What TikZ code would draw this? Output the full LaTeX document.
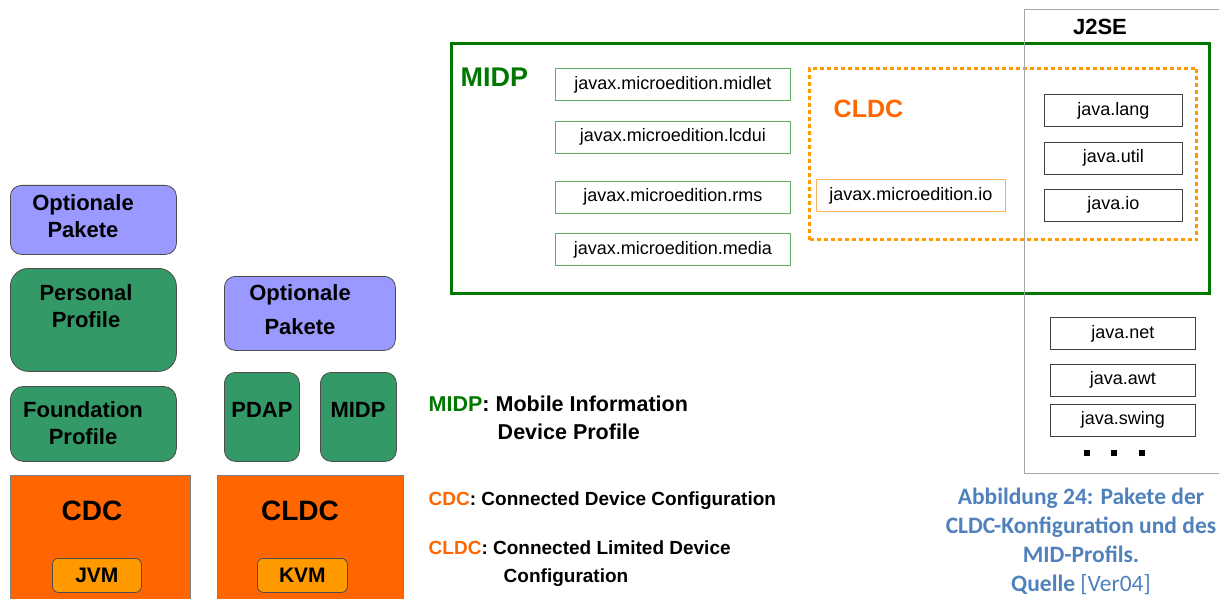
\documentclass[tikz,border=0pt]{standalone}
\usepackage{fontspec}
\setmainfont{Liberation Sans}
\newfontfamily\capfont{Carlito}
\usetikzlibrary{positioning,calc}
\definecolor{optpurple}{RGB}{153,153,255}
\definecolor{profgreen}{RGB}{51,153,102}
\definecolor{confred}{RGB}{255,102,0}
\definecolor{vmorange}{RGB}{255,153,0}
\definecolor{midpgreen}{RGB}{0,120,0}
\definecolor{pkggreen}{RGB}{95,175,95}
\definecolor{pkgorange}{RGB}{250,175,95}
\definecolor{capblue}{RGB}{79,129,189}
\tikzset{
    every picture/.style={line width=0.8pt},
    block/.style={draw=black!70,anchor=north west,inner sep=0pt},
    optbox/.style={block,rounded corners=11pt,fill=optpurple},
    profbox/.style={block,rounded corners=13pt,fill=profgreen},
    confbox/.style={block,fill=confred,draw=black!50},
    vmbox/.style={block,rounded corners=6pt,fill=vmorange},
    bigtext/.style={font=\bfseries\fontsize{22}{27}\selectfont,align=center},
    conftext/.style={font=\bfseries\fontsize{28}{32}\selectfont},
    pkg/.style={draw,fill=white,inner sep=0pt,minimum height=32pt,font=\fontsize{18}{22}\selectfont},
    legend/.style={anchor=base west,font=\bfseries\fontsize{19}{22}\selectfont}
}
\begin{document}
\begin{tikzpicture}[x=1pt,y=-1pt]
    \useasboundingbox (0,0) rectangle (1219,599);

    % CDC stack
    \node[optbox,minimum width=166pt,minimum height=69pt] (opta) at (10,185) {};
    \node[bigtext] (optatext) at (83,216) {Optionale\\Pakete};
    \node[profbox,rounded corners=18pt,minimum width=166pt,minimum height=103pt] (personal) at (10,268) {};
    \node[bigtext] (personaltext) at (86,306) {Personal\\Profile};
    \node[profbox,minimum width=166pt,minimum height=75pt] (foundation) at (10,386) {};
    \node[bigtext] (foundationtext) at (83,423) {Foundation\\Profile};
    \node[confbox,minimum width=180pt,minimum height=130pt] (cdc) at (10,475) {};
    \node[conftext] (cdctext) at (92,511) {CDC};
    \node[vmbox,minimum width=89pt,minimum height=34pt,font=\bfseries\fontsize{21}{24}\selectfont] (jvm) at (52,558) {JVM};

    % CLDC stack
    \node[optbox,minimum width=171pt,minimum height=74pt] (optb) at (224,276) {};
    \node[bigtext] (optbtext) at (300,310) {Optionale\\[7pt]Pakete};
    \node[profbox,rounded corners=11pt,minimum width=75pt,minimum height=89pt] (pdap) at (224,372) {};
    \node[bigtext] (pdaptext) at (262,410) {PDAP};
    \node[profbox,rounded corners=11pt,minimum width=76pt,minimum height=89pt] (midp) at (320,372) {};
    \node[bigtext] (midptext) at (358,410) {MIDP};
    \node[confbox,minimum width=186pt,minimum height=130pt] (cldc) at (217,475) {};
    \node[conftext] (cldctext) at (300,511) {CLDC};
    \node[vmbox,minimum width=90pt,minimum height=34pt,font=\bfseries\fontsize{21}{24}\selectfont] (kvm) at (257,558) {KVM};

    % Legend
    \node[legend,font=\bfseries\fontsize{21.5}{24}\selectfont] (legmidp) at (425,411) {\textcolor{midpgreen}{MIDP}: Mobile Information};
    \node[legend,font=\bfseries\fontsize{21.5}{24}\selectfont] (legmidpb) at (494,439) {Device Profile};
    \node[legend] (legcdc) at (425,505) {\textcolor{confred}{CDC}: Connected Device Configuration};
    \node[legend] (legcldc) at (425,554) {\textcolor{confred}{CLDC}: Connected Limited Device};
    \node[legend] (legcldcb) at (500,582) {Configuration};

    % Package frames
    \node[block,draw=midpgreen,line width=3pt,minimum width=758pt,minimum height=250pt] (midpframe) at (450,42) {};
    \node[anchor=west,text=midpgreen,font=\bfseries\fontsize{27}{30}\selectfont] (midptitle) at (457,77) {MIDP};
    \node[block,draw=vmorange,line width=3pt,dash pattern=on 4pt off 3pt,minimum width=387pt,minimum height=171pt] (cldcframe) at (808,67) {};
    \node[anchor=west,text=confred,font=\bfseries\fontsize{25}{28}\selectfont] (cldctitle) at (830,109) {CLDC};
    \node[block,draw=black!35,minimum width=200pt,minimum height=464pt] (j2se) at (1024,9) {};
    \node[font=\bfseries\fontsize{22}{26}\selectfont] (j2setitle) at (1100,27) {J2SE};

    % MIDP packages
    \node[pkg,draw=pkggreen,minimum width=235pt,anchor=north west] (midlet) at (555,68) {javax.microedition.midlet};
    \node[pkg,draw=pkggreen,minimum width=235pt,below=20pt of midlet] (lcdui) {javax.microedition.lcdui};
    \node[pkg,draw=pkggreen,minimum width=235pt,below=27pt of lcdui] (rms) {javax.microedition.rms};
    \node[pkg,draw=pkggreen,minimum width=235pt,below=20pt of rms] (media) {javax.microedition.media};

    % CLDC package
    \node[pkg,draw=pkgorange,minimum width=189pt,anchor=north west] (mio) at (816,179) {javax.microedition.io};

    % J2SE packages
    \node[pkg,draw=black!75,minimum width=138pt,anchor=north west] (lang) at (1044,94) {java.lang};
    \node[pkg,draw=black!75,minimum width=138pt,below=15pt of lang] (util) {java.util};
    \node[pkg,draw=black!75,minimum width=138pt,below=14pt of util] (jio) {java.io};
    \node[pkg,draw=black!75,minimum width=145pt,anchor=north west] (net) at (1050,317) {java.net};
    \node[pkg,draw=black!75,minimum width=145pt,below=14pt of net] (awt) {java.awt};
    \node[pkg,draw=black!75,minimum width=145pt,below=7pt of awt] (swing) {java.swing};
    \foreach \x/\n in {1087/a,1114/b,1142/c}
        \node[fill=black,inner sep=0pt,minimum size=6pt] (dot\n) at (\x,453) {};

    % Caption
    \node[align=center,text=capblue,font=\capfont\bfseries\fontsize{23.5}{29}\selectfont] (caption) at (1081,541)
        {Abbildung 24: Pakete der\\CLDC-Konfiguration und des\\MID-Profils.\\Quelle \mdseries[Ver04]};
\end{tikzpicture}
\end{document}
